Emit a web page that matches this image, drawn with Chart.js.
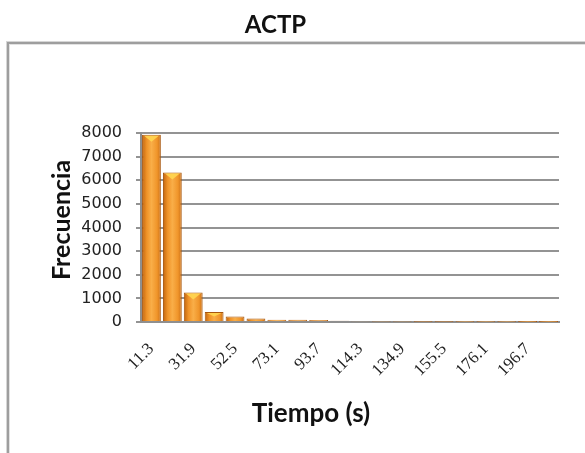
<!DOCTYPE html>
<html>
<head>
<meta charset="utf-8">
<script src="https://cdn.jsdelivr.net/npm/chart.js@4.4.1/dist/chart.umd.min.js"></script>
<style>
  html, body { margin: 0; padding: 0; background: #ffffff; }
  #wrap { position: relative; width: 585px; height: 453px; overflow: hidden; }
  #frame {
    position: absolute; left: 7px; top: 42px; width: 640px; height: 480px;
    border-left: 2px solid #9e9e9e; border-top: 2px solid #9e9e9e;
    box-shadow: -1px -1px 0 #d6d6d6, inset 1px 1px 0 #e2e2e2;
  }
  #c { position: absolute; left: 0; top: 0; }
</style>
</head>
<body>
<div id="wrap">
  <div id="frame"></div>
  <canvas id="c" width="585" height="453"></canvas>
</div>
<script>
// Histogram bins (upper bound of each class, seconds)
const categories = ['11.3', '21.6', '31.9', '42.2', '52.5', '62.8', '73.1', '83.4', '93.7', '104',
                    '114.3', '124.6', '134.9', '145.2', '155.5', '165.8', '176.1', '186.4', '196.7', '207'];
// Frequency of each bin
const frequencies = [7930, 6330, 1250, 420, 230, 150, 100, 90, 80, 50,
                     30, 25, 20, 15, 12, 10, 8, 6, 5, 4];
// Y axis ticks
const yTicks = [0, 1000, 2000, 3000, 4000, 5000, 6000, 7000, 8000];

const chartTitle = 'ACTP';
const xTitle = 'Tiempo (s)';
const yTitle = 'Frecuencia';

const BAR_PCT = 0.9;

// Cylinder-like horizontal shading for each bar
function barGradient(ctx) {
  const chart = ctx.chart;
  const xs = chart.scales && chart.scales.x;
  if (!xs || ctx.dataIndex === undefined) return '#f39a2c';
  const cx = xs.getPixelForValue(ctx.dataIndex);
  const w = (xs.width / categories.length) * BAR_PCT;
  if (!Number.isFinite(cx) || !Number.isFinite(w) || w <= 0) return '#f39a2c';
  const g = chart.ctx.createLinearGradient(cx - w / 2, 0, cx + w / 2, 0);
  g.addColorStop(0, '#bf640f');
  g.addColorStop(0.25, '#f09328');
  g.addColorStop(0.5, '#f9ae48');
  g.addColorStop(0.8, '#f0952a');
  g.addColorStop(1, '#c96e15');
  return g;
}

// Light cap on top of each bar
const barCaps = {
  id: 'barCaps',
  afterDatasetsDraw(chart) {
    const ctx = chart.ctx;
    chart.getDatasetMeta(0).data.forEach(bar => {
      const h = bar.base - bar.y;
      if (h < 6) return;
      const half = bar.width / 2;
      ctx.save();
      ctx.fillStyle = 'rgba(255, 214, 80, 0.9)';
      ctx.beginPath();
      ctx.moveTo(bar.x - half + 2, bar.y + 1);
      ctx.lineTo(bar.x + half - 2, bar.y + 1);
      ctx.lineTo(bar.x, bar.y + Math.min(7, h / 2));
      ctx.closePath();
      ctx.fill();
      ctx.restore();
    });
  }
};

// Chart title and axis titles
const titles = {
  id: 'titles',
  afterDraw(chart) {
    const ctx = chart.ctx;
    ctx.save();
    ctx.fillStyle = '#111111';
    ctx.textAlign = 'center';
    ctx.textBaseline = 'alphabetic';
    ctx.font = 'bold 24px Lato';
    ctx.fillText(chartTitle, 275.5, 33);
    ctx.font = 'bold 26px Lato';
    ctx.fillText(xTitle, 311, 421.5);
    ctx.translate(70, 220);
    ctx.rotate(-Math.PI / 2);
    ctx.font = 'bold 25px Lato';
    ctx.fillText(yTitle, 0, 0);
    ctx.restore();
  }
};

new Chart(document.getElementById('c'), {
  type: 'bar',
  data: {
    labels: categories,
    datasets: [{
      data: frequencies,
      backgroundColor: barGradient,
      borderColor: '#a8570e',
      borderWidth: 1,
      borderSkipped: 'bottom',
      barPercentage: BAR_PCT,
      categoryPercentage: 1.0
    }]
  },
  options: {
    responsive: false,
    animation: false,
    layout: { padding: { top: 133, right: 26, bottom: 0, left: 0 } },
    plugins: {
      legend: { display: false },
      title: { display: false },
      tooltip: { enabled: false }
    },
    scales: {
      x: {
        afterFit: s => { s.height = 131; },
        grid: { display: false },
        border: { display: true, color: '#8f8f8f', width: 2 },
        ticks: {
          autoSkip: false,
          minRotation: 45,
          maxRotation: 45,
          padding: 9,
          color: '#222222',
          font: { family: 'Liberation Serif', size: 17 },
          callback: (v, i) => (i % 2 === 0 ? categories[i] : '')
        }
      },
      y: {
        min: 0,
        max: 8000,
        afterFit: s => { s.width = 141; },
        afterBuildTicks: s => { s.ticks = yTicks.map(v => ({ value: v })); },
        grid: { color: '#939393', lineWidth: 2, tickLength: 5 },
        border: { display: true, color: '#8f8f8f', width: 2 },
        ticks: {
          padding: 14,
          color: '#222222',
          font: { family: 'DejaVu Sans', size: 16 },
          callback: v => String(v)
        }
      }
    }
  },
  plugins: [barCaps, titles]
});
</script>
</body>
</html>
